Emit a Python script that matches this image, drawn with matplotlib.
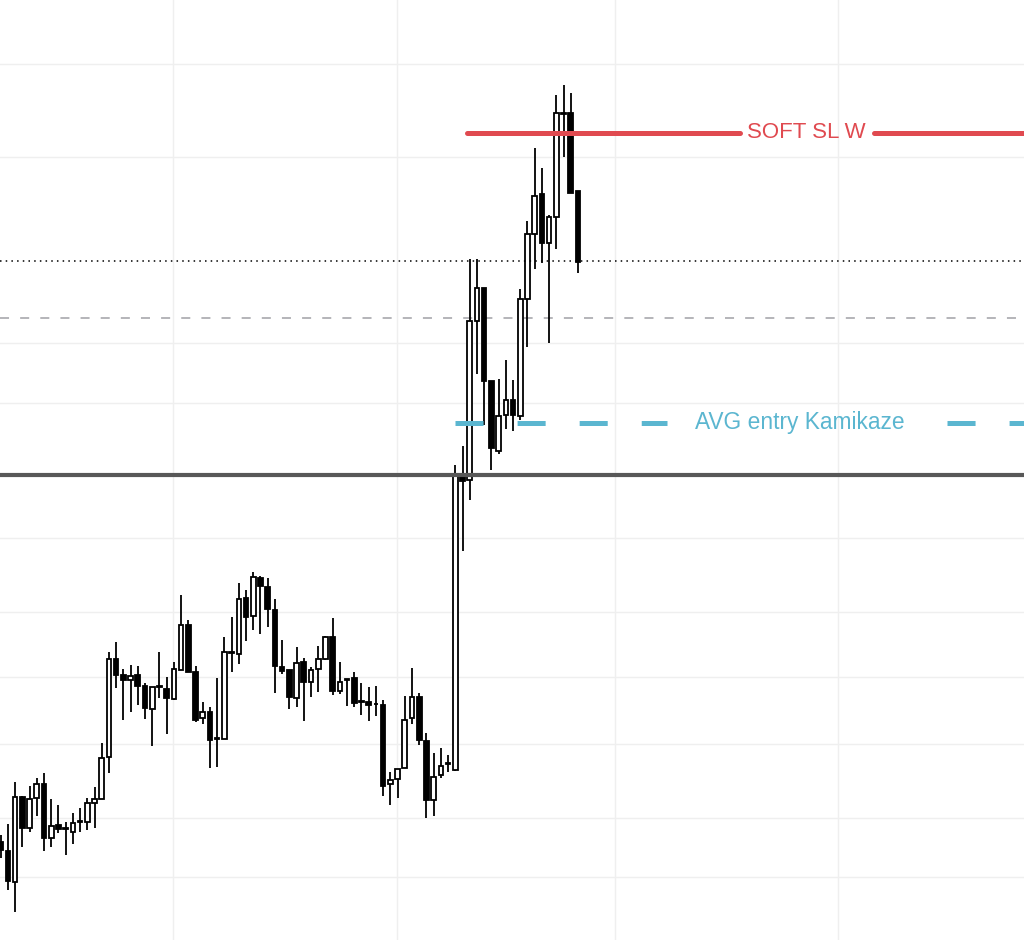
import numpy as np
import matplotlib.pyplot as plt

plt.rcParams['lines.scale_dashes'] = False

# OHLC candles, oldest first (price units)
opens = [158, 149, 118, 203, 172, 202, 216, 162, 175, 171, 168, 178, 178, 197, 201,
         243, 341, 325, 320, 325, 314, 291, 313, 311, 301, 330, 375, 328, 282, 288,
         261, 261, 347, 346, 402, 384, 422, 413, 390, 333, 330, 302, 338, 318, 331,
         341, 363, 309, 320, 322, 298, 298, 296, 295, 216, 221, 232, 282, 303, 259,
         200, 225, 236, 230, 525, 520, 679, 712, 619, 549, 585, 600, 584, 701, 766,
         806, 757, 783, 886.5, 887, 809]
highs = [165, 176, 218, 204, 214, 222, 227, 201, 195, 178, 187, 192, 202, 213, 257,
         348, 358, 331, 335, 334, 317, 313, 348, 323, 338, 405, 380, 334, 298, 293,
         322, 363, 383, 417, 410, 428, 424, 422, 401, 360, 330, 353, 342, 333, 354,
         364, 382, 338, 321, 328, 317, 313, 314, 300, 228, 231, 304, 332, 307, 267,
         247, 252, 245, 535, 554, 741, 741, 712, 619, 621, 640, 620, 711, 779, 852,
         832, 785, 905, 915, 907, 809]
lows = [142, 110, 88, 153, 168, 184, 149, 153, 167, 145, 156, 168, 170, 172, 201,
        227, 312, 280, 288, 295, 281, 254, 302, 266, 300, 330, 328, 278, 276, 232,
        233, 261, 328, 336, 359, 370, 366, 373, 307, 326, 291, 293, 279, 303, 308,
        340, 305, 306, 294, 293, 285, 279, 284, 204, 195, 202, 232, 276, 255, 182,
        184, 222, 228, 229, 449, 500, 626, 575, 530, 546, 571, 569, 580, 653, 731,
        737, 657, 751, 843, 807, 727]
closes = [150, 119, 203, 172, 201, 216, 162, 174, 171, 172, 177, 179, 197, 201, 242,
          341, 325, 320, 324, 314, 292, 313, 314, 302, 331, 375, 328, 280, 288, 260,
          262, 348, 348, 401, 383, 423, 414, 391, 334, 329, 303, 337, 318, 330, 341,
          363, 309, 318, 321, 297, 299, 295, 296, 214, 220, 231, 280, 303, 260, 200,
          223, 234, 237, 524, 519, 679, 712, 619, 552, 584, 600, 585, 701, 766, 804,
          757, 783, 887, 887, 807, 738]

# horizontal levels
soft_sl = 867
last_close = 739
mid_level = 682
avg_entry = 577
key_level = 525

price_grid = [936, 843, 657, 597, 462, 388, 323, 256, 182, 123]
time_grid = [23.88, 54.92, 85.13, 116.03]

o = np.array(opens, dtype=float)
h = np.array(highs, dtype=float)
l = np.array(lows, dtype=float)
c = np.array(closes, dtype=float)
idx = np.arange(len(o))
up = c >= o

fig = plt.figure(figsize=(10.24, 9.4), dpi=100)
ax = fig.add_axes([0, 0, 1, 1])
ax.set_xlim(-0.097, 141.81)
ax.set_ylim(60, 1000)

for y in price_grid:
    ax.axhline(y, color='#efefef', lw=1, zorder=0)
for x in time_grid:
    ax.axvline(x, color='#efefef', lw=1, zorder=0)

# wicks and bodies
ax.vlines(idx, l, h, color='black', lw=1.3, zorder=2)
bw = 0.64
ax.bar(idx[up], c[up] - o[up], bottom=o[up], width=bw, color='white',
       edgecolor='black', lw=1.3, zorder=3)
ax.bar(idx[~up], o[~up] - c[~up], bottom=c[~up], width=bw, color='black',
       edgecolor='black', lw=1.3, zorder=3)

x_end = 141.81
ax.plot([-0.1, x_end], [key_level, key_level], color='#585858', lw=3, zorder=4)
ax.plot([-0.1, x_end], [last_close, last_close], color='black', lw=1.1,
        linestyle=(0, (1.1, 3.0)), zorder=4)
ax.plot([-0.1, x_end], [mid_level, mid_level], color='#a0a0a6', lw=1.1,
        linestyle=(0, (6.5, 8.0)), zorder=1)

# average entry line, broken around its label
blue = '#5bb6d0'
for x0, x1 in [(62.96, 92.34), (131.14, x_end)]:
    ax.plot([x0, x1], [avg_entry, avg_entry], color=blue, lw=3.6,
            linestyle=(0, (20.2, 24.5)), zorder=4)
ax.text(110.8, avg_entry, "AVG entry Kamikaze", color=blue, fontsize=16.4,
        family='Liberation Sans', ha='center', va='center', zorder=5)

# soft stop line, broken around its label
red = '#e04a50'
for x0, x1 in [(64.6, 102.45), (121.02, x_end)]:
    ax.plot([x0, x1], [soft_sl, soft_sl], color=red, lw=3.6,
            solid_capstyle='round', zorder=4)
ax.text(111.6, soft_sl, "SOFT SL W", color=red, fontsize=16,
        family='Liberation Sans', ha='center', va='center', zorder=5)

ax.set_xticks([])
ax.set_yticks([])
for s in ax.spines.values():
    s.set_visible(False)

fig.savefig('out.png', dpi=100)
